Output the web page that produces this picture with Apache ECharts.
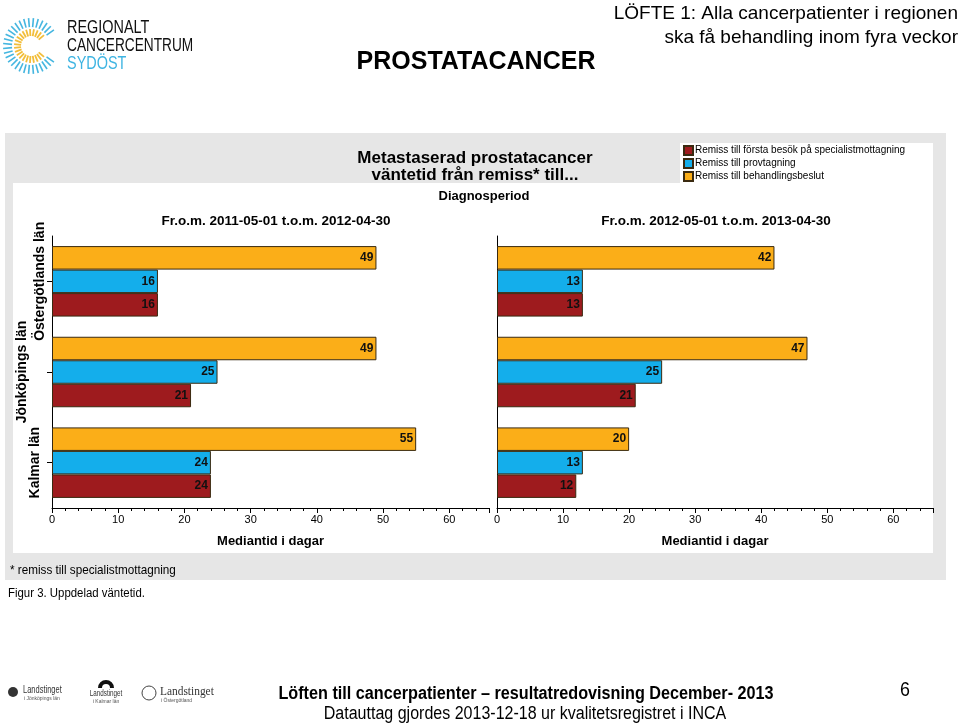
<!DOCTYPE html>
<html><head><meta charset="utf-8">
<script src="https://cdn.jsdelivr.net/npm/echarts@6/dist/echarts.min.js"></script>
<style>html,body{margin:0;padding:0;background:#fff}#c{width:960px;height:723px}</style>
</head><body><div id="c"></div>
<script>
// ---------- data ----------
const categories = ['Östergötlands län', 'Jönköpings län', 'Kalmar län'];
const periods = ['Fr.o.m. 2011-05-01 t.o.m. 2012-04-30', 'Fr.o.m. 2012-05-01 t.o.m. 2013-04-30'];
const seriesNames = ['Remiss till första besök på specialistmottagning', 'Remiss till provtagning', 'Remiss till behandlingsbeslut'];
const period1Besok = [16, 21, 24];
const period1Prov = [16, 25, 24];
const period1Beslut = [49, 49, 55];
const period2Besok = [13, 21, 12];
const period2Prov = [13, 25, 13];
const period2Beslut = [42, 47, 20];
const axisMax = 66;
const axisInterval = 10;
const axisName = 'Mediantid i dagar';

// ---------- styling ----------
const colors = ['#9E1B1E', '#14AEEB', '#FBAE18'];
const SANS = '"Liberation Sans", Arial, sans-serif';

const chart = echarts.init(document.getElementById('c'), null, {renderer: 'canvas'});

function xAxisDef(gi) {
  return {
    gridIndex: gi, type: 'value', min: 0, max: axisMax, interval: axisInterval,
    axisLine: {show: true, lineStyle: {color: '#000', width: 1}},
    axisTick: {show: true, length: 5, lineStyle: {color: '#000'}},
    minorTick: {show: true, splitNumber: 5, length: 3, lineStyle: {color: '#000'}},
    splitLine: {show: false},
    axisLabel: {showMaxLabel: false, color: '#000', fontSize: 11, fontFamily: SANS, margin: 6},
    name: axisName, nameLocation: 'middle', nameGap: 27,
    nameTextStyle: {fontWeight: 'bold', fontSize: 13, color: '#000', fontFamily: SANS}
  };
}
function yAxisDef(gi, showLabels) {
  return {
    gridIndex: gi, type: 'category', data: categories, inverse: true,
    axisLine: {show: true, lineStyle: {color: '#000', width: 1}},
    axisTick: {show: showLabels, alignWithLabel: true, length: 5, lineStyle: {color: '#000'}},
    axisLabel: showLabels ? {
      rotate: 90, margin: 5, color: '#000', interval: 0, hideOverlap: false,
      formatter: (v, i) => '{c' + i + '|' + v + '}',
      rich: {
        c0: {fontWeight: 'bold', fontSize: 14, fontFamily: SANS, color: '#000', lineHeight: 14},
        c1: {fontWeight: 'bold', fontSize: 14, fontFamily: SANS, color: '#000', lineHeight: 50},
        c2: {fontWeight: 'bold', fontSize: 14, fontFamily: SANS, color: '#000', lineHeight: 24}
      }
    } : {show: false}
  };
}
function barSeries(name, data, gi, ci) {
  return {
    name: name, type: 'bar', xAxisIndex: gi, yAxisIndex: gi, data: data,
    barWidth: 23.5, barGap: '0%',
    itemStyle: {color: colors[ci], borderColor: '#3a2a10', borderWidth: 1},
    label: {show: true, position: 'insideRight', distance: 3, fontWeight: 'bold',
      fontSize: 12, color: '#111', fontFamily: SANS},
    emphasis: {disabled: true}, animation: false
  };
}

// logo rays
const logo = [];
const cx = 31, cy = 46;
for (let k = 0; k < 30; k++) {
  const a = (35 + k * (290 / 29)) * Math.PI / 180;
  logo.push({type: 'line', shape: {x1: cx + 19 * Math.cos(a), y1: cy - 19 * Math.sin(a), x2: cx + 28 * Math.cos(a), y2: cy - 28 * Math.sin(a)},
    style: {stroke: '#45B6E0', lineWidth: 1.6}, silent: true});
}
for (let k = 0; k < 22; k++) {
  const a = (40 + k * (280 / 21)) * Math.PI / 180;
  logo.push({type: 'line', shape: {x1: cx + 10 * Math.cos(a), y1: cy - 10 * Math.sin(a), x2: cx + 17 * Math.cos(a), y2: cy - 17 * Math.sin(a)},
    style: {stroke: '#F2BE3A', lineWidth: 1.8}, silent: true});
}

function txt(text, x, y, font, align, fill, sx) {
  return {type: 'text', x: x, y: y, z: 5, silent: true, scaleX: sx || 1,
    style: {text: text, font: font, fill: fill || '#000', textAlign: align || 'left', textVerticalAlign: 'middle'}};
}

const graphics = [
  {type: 'rect', shape: {x: 5, y: 133, width: 941, height: 447}, style: {fill: '#E6E6E6'}, z: -10, silent: true},
  {type: 'rect', shape: {x: 13, y: 183, width: 920, height: 370}, style: {fill: '#FFFFFF'}, z: -9, silent: true},
  {type: 'rect', shape: {x: 680, y: 143, width: 253, height: 41}, style: {fill: '#FFFFFF'}, z: -9, silent: true},
  ...logo,
  txt('REGIONALT', 67, 28, '19px ' + SANS, 'left', '#111', 0.76),
  txt('CANCERCENTRUM', 67, 46, '19px ' + SANS, 'left', '#111', 0.72),
  txt('SYDÖST', 67, 64, '19px ' + SANS, 'left', '#3DB4E2', 0.76),
  txt('PROSTATACANCER', 476, 62, 'bold 25px ' + SANS, 'center'),
  txt('LÖFTE 1: Alla cancerpatienter i regionen', 958, 14, '19px ' + SANS, 'right'),
  txt('ska få behandling inom fyra veckor', 958, 38, '19px ' + SANS, 'right'),
  txt('Metastaserad prostatacancer', 475, 158, 'bold 17px ' + SANS, 'center'),
  txt('väntetid från remiss* till...', 475, 175, 'bold 17px ' + SANS, 'center'),
  txt('Diagnosperiod', 484, 196, 'bold 13px ' + SANS, 'center'),
  txt(periods[0], 276, 221, 'bold 13.5px ' + SANS, 'center'),
  txt(periods[1], 716, 221, 'bold 13.5px ' + SANS, 'center'),
  txt('* remiss till specialistmottagning', 10, 570, '13px ' + SANS, 'left', '#000', 0.9),
  txt('Figur 3. Uppdelad väntetid.', 8, 594, '12px ' + SANS, 'left', '#000', 0.95),
  txt('Löften till cancerpatienter – resultatredovisning December- 2013', 526, 694, 'bold 18px ' + SANS, 'center', '#000', 0.9),
  txt('Datauttag gjordes 2013-12-18 ur kvalitetsregistret i INCA', 525, 714, '18px ' + SANS, 'center', '#000', 0.89),
  txt('6', 905, 690, '21px ' + SANS, 'center', '#000', 0.85),
  // footer county logos (approximate)
  {type: 'circle', shape: {cx: 13, cy: 692, r: 5}, style: {fill: '#333'}, z: 5, silent: true},
  txt('Landstinget', 23, 690, '10px ' + SANS, 'left', '#333', 0.75),
  txt('i Jönköpings län', 24, 699, '5px ' + SANS, 'left', '#555'),
  {type: 'arc', shape: {cx: 106, cy: 688, r: 6, startAngle: Math.PI, endAngle: 2 * Math.PI}, style: {stroke: '#111', lineWidth: 4, fill: 'none'}, z: 5, silent: true},
  txt('Landstinget', 106, 694, '9px ' + SANS, 'center', '#333', 0.7),
  txt('i Kalmar län', 106, 702, '5px ' + SANS, 'center', '#555'),
  {type: 'circle', shape: {cx: 149, cy: 693, r: 7}, style: {fill: 'none', stroke: '#444', lineWidth: 1}, z: 5, silent: true},
  txt('Landstinget', 160, 692, '12px "Liberation Serif", serif', 'left', '#333', 0.95),
  txt('i Östergötland', 161, 701, '5px ' + SANS, 'left', '#555')
];

const option = {
  backgroundColor: '#fff',
  animation: false,
  textStyle: {fontFamily: SANS},
  grid: [
    {left: 52, top: 236, width: 437, height: 272, containLabel: false},
    {left: 497, top: 236, width: 436, height: 272, containLabel: false}
  ],
  xAxis: [xAxisDef(0), xAxisDef(1)],
  yAxis: [yAxisDef(0, true), yAxisDef(1, false)],
  legend: {
    orient: 'vertical', left: 683, top: 145, itemWidth: 9, itemHeight: 9, itemGap: 2,
    icon: 'rect', data: seriesNames, selectedMode: false, padding: 0,
    textStyle: {fontSize: 10, color: '#000', fontFamily: SANS, padding: [0, 0, 0, -3]}
  },
  series: [
    barSeries(seriesNames[2], period1Beslut, 0, 2),
    barSeries(seriesNames[1], period1Prov, 0, 1),
    barSeries(seriesNames[0], period1Besok, 0, 0),
    barSeries(seriesNames[2], period2Beslut, 1, 2),
    barSeries(seriesNames[1], period2Prov, 1, 1),
    barSeries(seriesNames[0], period2Besok, 1, 0)
  ],
  graphic: graphics
};
chart.setOption(option);
</script>
</body></html>
